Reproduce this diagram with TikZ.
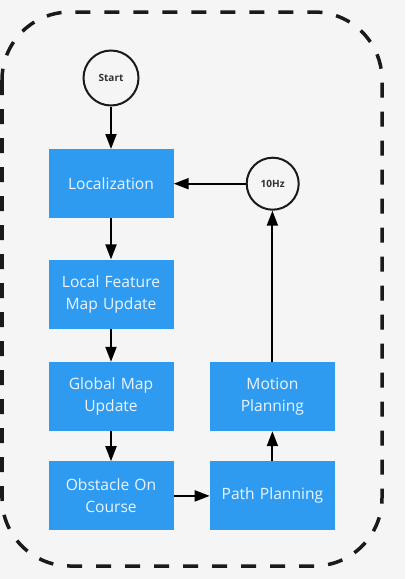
\documentclass[tikz,border=0pt]{standalone}
\usepackage{fontspec}
\setmainfont{Open Sans}
\usepackage{xcolor}
\usetikzlibrary{arrows.meta,positioning}
\definecolor{boxblue}{RGB}{47,155,240}
\definecolor{boxtext}{RGB}{236,245,253}
\definecolor{pagebg}{RGB}{245,245,245}
\definecolor{inkblack}{RGB}{26,26,26}
\tikzstyle{process} = [rectangle, minimum width=125pt, minimum height=69pt, text width=118pt, align=center, fill=boxblue, text=boxtext, font=\fontsize{15.6}{22}\selectfont]
\tikzstyle{event} = [circle, draw=inkblack, line width=2pt, inner sep=0pt, minimum size=55pt, text=inkblack!90, font=\bfseries\fontsize{10}{12}\selectfont]
\tikzstyle{arrow} = [line width=2pt, draw=black, -{Triangle[length=15pt,width=11pt]}]
\tikzstyle{frame} = [draw=inkblack, line width=3.5pt, dash pattern=on 15pt off 14pt, rounded corners=68pt]

\begin{document}
\begin{tikzpicture}[x=1pt, y=-1pt]

    \fill[pagebg] (0,0) rectangle (405,579);
    \useasboundingbox (0,0) rectangle (405,579);

    \draw[frame] (2,12) rectangle (382,566);

    \node (start) [event] at (111,78) {Start};

    \node (localization) [process, below=42.5pt of start] {Localization};

    \node (local_feature_map) [process, below=41pt of localization] {Local Feature\\Map Update};

    \node (global_map) [process, below=33pt of local_feature_map] {Global Map\\Update};

    \node (obstacle_on_course) [process, below=30pt of global_map] {Obstacle On\\Course};

    \node (path_planning) [process, right=36pt of obstacle_on_course] {Path Planning};

    \node (motion_planning) [process, above=30pt of path_planning] {Motion\\Planning};

    \node (rate) [event, minimum size=52pt, right=72pt of localization] {10Hz};

    \draw [arrow] (start) -- (localization);

    \draw [arrow] (localization) -- (local_feature_map);

    \draw [arrow] (local_feature_map) -- (global_map);

    \draw [arrow] (global_map) -- (obstacle_on_course);

    \draw [arrow] (obstacle_on_course) -- (path_planning);

    \draw [arrow] (path_planning) -- (motion_planning);

    \draw [arrow] (motion_planning) -- (motion_planning |- rate.south);

    \draw [arrow] (rate) -- (localization);

\end{tikzpicture}
\end{document}
